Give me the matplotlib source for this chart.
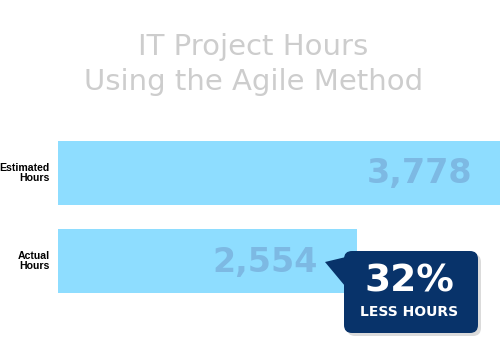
import matplotlib
matplotlib.use("Agg")
import matplotlib.pyplot as plt
from matplotlib.patches import FancyBboxPatch, Polygon

# chart data
categories = ["Actual\nHours", "Estimated\nHours"]
hours = [2554, 3778]
title_lines = ["IT Project Hours", "Using the Agile Method"]

bar_color = "#8EDDFF"
value_color = "#7DB9E3"
navy = "#08336A"
title_color = "#CDCDCD"

fig = plt.figure(figsize=(5, 3.5), dpi=100)
fig.patch.set_facecolor("white")

# bar axes: spans x 58..500 px, y 141..293 px
ax = fig.add_axes([58 / 500, 1 - 293 / 350, 442 / 500, 152 / 350])
ypos = list(range(len(categories)))
ax.barh(ypos, hours, height=0.727, color=bar_color)
ax.set_xlim(0, max(hours))
ax.set_ylim(-0.3636, len(categories) - 1 + 0.3636)
ax.axis("off")

offsets = [-39, -28]
for y, v, off in zip(ypos, hours, offsets):
    ax.annotate(f"{v:,}", (v, y), xytext=(off, -1), textcoords="offset pixels",
                ha="right", va="center", fontsize=24, fontweight="bold",
                color=value_color)
    ax.annotate(categories[y], (0, y), xytext=(-8, 0), textcoords="offset pixels",
                ha="right", va="center", fontsize=7.6, fontweight="bold",
                family="Liberation Sans", color="black", linespacing=1.0)

# title
fig.text(0.507, 1 - 47 / 350, title_lines[0], ha="center", va="center",
         fontsize=21, color=title_color)
fig.text(0.507, 1 - 82 / 350, title_lines[1], ha="center", va="center",
         fontsize=21, color=title_color)

# overlay in pixel units for the callout
ov = fig.add_axes([0, 0, 1, 1])
ov.set_xlim(0, 500)
ov.set_ylim(350, 0)
ov.axis("off")
ov.patch.set_alpha(0)

shadow = FancyBboxPatch((347, 254), 134, 82, boxstyle="round,pad=0,rounding_size=8",
                        facecolor="#999999", edgecolor="none", alpha=0.35)
ov.add_patch(shadow)
box = FancyBboxPatch((344, 251), 134, 82, boxstyle="round,pad=0,rounding_size=8",
                     facecolor=navy, edgecolor="none")
ov.add_patch(box)
ov.add_patch(Polygon([(325, 262), (350, 256), (350, 292)], closed=True,
                     facecolor=navy, edgecolor="none"))

pct = round((1 - hours[0] / hours[1]) * 100)
ov.text(409, 281, f"{pct}%", ha="center", va="center", fontsize=27,
        fontweight="bold", color="white")
ov.text(409, 312, "LESS HOURS", ha="center", va="center", fontsize=10,
        fontweight="bold", color="white")

fig.savefig("out.png", dpi=100)
